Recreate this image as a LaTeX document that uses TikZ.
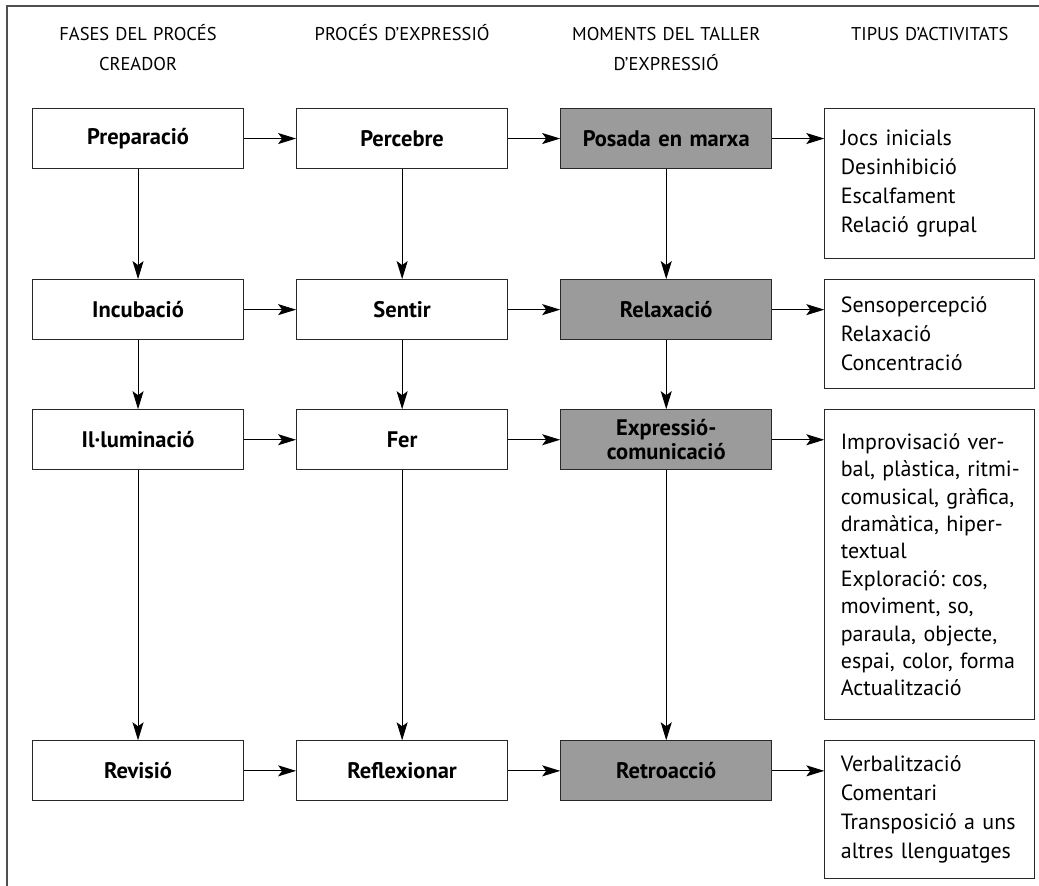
\documentclass[tikz,border=0pt]{standalone}
\usepackage{fontspec}
\setmainfont{PT Sans}
\frenchspacing
\usetikzlibrary{matrix,arrows.meta}

\definecolor{boxgray}{RGB}{155,155,155}
\definecolor{lineclr}{RGB}{40,40,40}
\definecolor{framegray}{RGB}{80,80,80}

\tikzset{
  fase/.style={draw=lineclr, line width=1.1pt, text width=211pt, minimum height=60pt,
    inner sep=0pt, align=center, font=\fontsize{22.5}{24}\selectfont\bfseries},
  moment/.style={fase, fill=boxgray},
  tipus/.style={draw=lineclr, line width=1.1pt, text width=178pt, inner xsep=16pt,
    inner ysep=0pt, align=left, font=\fontsize{22}{29}\selectfont},
  capcal/.style={draw=none, fill=none, minimum height=0pt, text width=211pt,
    align=center, inner sep=0pt, font=\fontsize{18.5}{30}\selectfont},
  fletxa/.style={-{Stealth[length=18pt,width=11pt,inset=4pt]}, line width=1pt, draw=black, fill=black}
}

\begin{document}
\begin{tikzpicture}[x=1pt,y=1pt]

\matrix (m) [matrix of nodes, nodes in empty cells,
column sep=52pt, row sep=20pt,
nodes={anchor=north},
column 1/.style={nodes={fase}},
column 2/.style={nodes={fase}},
column 3/.style={nodes={moment}},
column 4/.style={nodes={tipus}},
row 1/.style={nodes={capcal}}] {
{\strut FASES DEL PROCÉS\\CREADOR\strut} & {\strut PROCÉS D’EXPRESSIÓ\strut} & {\strut MOMENTS DEL TALLER\\D’EXPRESSIÓ\strut} & {\strut TIPUS D’ACTIVITATS\strut} \\[9pt]
Preparació & Percebre & Posada en marxa & |[minimum height=150pt]| {Jocs inicials\\Desinhibició\\Escalfament\\Relació grupal} \\
Incubació & Sentir & Relaxació & |[minimum height=109pt]| {Sensopercepció\\Relaxació\\Concentració} \\
Il·luminació & Fer & {Expressió-\\comunicació} & |[minimum height=310pt, font=\fontsize{22}{27.4}\selectfont]| {\mbox{Improvisació ver-}\\\mbox{bal, plàstica, ritmi-}\\\mbox{comusical, gràfica,}\\\mbox{dramàtica, hiper-}\\textual\\\mbox{Exploració: cos,}\\\mbox{moviment, so,}\\\mbox{paraula, objecte,}\\\mbox{espai, color, forma}\\Actualització} \\
Revisió & Reflexionar & Retroacció & |[minimum height=138pt]| {Verbalització\\Comentari\\\mbox{Transposició a uns}\\\mbox{altres llenguatges}} \\
};

\begin{scope}[shift={(m-2-1.north west)}]
\useasboundingbox (-32,108) rectangle (1007,-778);
\draw[line width=1.3pt, draw=framegray] (1007,102) -- (-25,102) -- (-25,-778);
\end{scope}

\foreach \r [count=\s from 3] in {2,3,4} {
  \foreach \c in {1,2,3}
    \draw[fletxa] (m-\r-\c) -- (m-\s-\c);
};

\foreach \r in {2,...,5} {
  \draw[fletxa] (m-\r-1) -- (m-\r-2);
  \draw[fletxa] (m-\r-2) -- (m-\r-3);
  \draw[fletxa] (m-\r-3.east) -- (m-\r-3.east -| m-\r-4.west);
};

\end{tikzpicture}
\end{document}
